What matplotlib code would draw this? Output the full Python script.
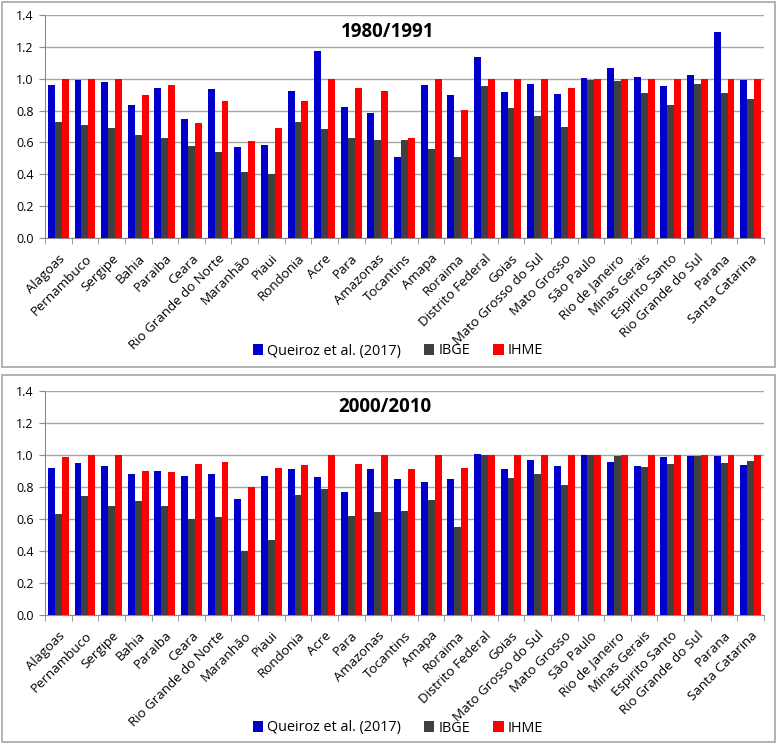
import numpy as np
import matplotlib.pyplot as plt
from matplotlib.patches import Rectangle

plt.rcParams['font.family'] = ['Open Sans', 'DejaVu Sans']

states = ['Alagoas', 'Pernambuco', 'Sergipe', 'Bahia', 'Paraiba', 'Ceara',
          'Rio Grande do Norte', 'Maranhão', 'Piaui', 'Rondonia', 'Acre', 'Para',
          'Amazonas', 'Tocantins', 'Amapa', 'Roraima', 'Distrito Federal', 'Goias',
          'Mato Grosso do Sul', 'Mato Grosso', 'São Paulo', 'Rio de Janeiro',
          'Minas Gerais', 'Espirito Santo', 'Rio Grande do Sul', 'Parana',
          'Santa Catarina']
series_names = ['Queiroz et al. (2017)', 'IBGE', 'IHME']

# 1980/1991
queiroz_80 = [0.96, 0.99, 0.98, 0.835, 0.94, 0.75, 0.935, 0.574, 0.585, 0.92, 1.175,
              0.825, 0.785, 0.507, 0.96, 0.90, 1.138, 0.915, 0.968, 0.907, 1.005,
              1.065, 1.012, 0.953, 1.025, 1.295, 0.993]
ibge_80 = [0.73, 0.71, 0.69, 0.645, 0.63, 0.58, 0.54, 0.415, 0.40, 0.73, 0.685,
           0.63, 0.617, 0.618, 0.56, 0.509, 0.954, 0.818, 0.765, 0.698, 0.992,
           0.987, 0.908, 0.834, 0.966, 0.908, 0.874]
ihme_80 = [1.0, 1.0, 1.0, 0.895, 0.96, 0.725, 0.857, 0.612, 0.69, 0.857, 1.0,
           0.94, 0.92, 0.625, 1.0, 0.803, 1.0, 1.0, 1.0, 0.94, 1.0,
           1.0, 1.0, 1.0, 1.0, 1.0, 1.0]

# 2000/2010
queiroz_00 = [0.917, 0.95, 0.931, 0.884, 0.898, 0.871, 0.884, 0.723, 0.871, 0.911,
              0.865, 0.767, 0.911, 0.852, 0.832, 0.852, 1.008, 0.911, 0.969, 0.929,
              1.0, 0.956, 0.929, 0.988, 0.994, 0.994, 0.936]
ibge_00 = [0.63, 0.746, 0.682, 0.715, 0.682, 0.599, 0.611, 0.40, 0.466, 0.753,
           0.786, 0.617, 0.642, 0.649, 0.721, 0.547, 1.0, 0.859, 0.884, 0.811,
           1.0, 0.994, 0.923, 0.942, 0.994, 0.948, 0.963]
ihme_00 = [0.988, 1.0, 1.0, 0.898, 0.892, 0.942, 0.956, 0.80, 0.917, 0.936,
           1.0, 0.942, 1.0, 0.911, 1.0, 0.917, 1.0, 1.0, 1.0, 1.0,
           1.0, 1.0, 1.0, 1.0, 1.0, 1.0, 1.0]

colors = ['#0000cc', '#404040', '#ff0000']
W, H = 778, 744
fig = plt.figure(figsize=(W / 100, H / 100), dpi=100)


def px(x0, y0, x1, y1):
    return [x0 / W, 1 - y1 / H, (x1 - x0) / W, (y1 - y0) / H]


def panel(rect, title, data, title_xy, leg_xy, box):
    fig.add_artist(Rectangle((box[0], box[1]), box[2], box[3], transform=fig.transFigure,
                             fill=False, ec='#a6a6a6', lw=1.2))
    ax = fig.add_axes(rect)
    x = np.arange(len(states))
    w = 0.26
    for i, vals in enumerate(data):
        ax.bar(x + (i - 1) * w, vals, width=w, color=colors[i], label=series_names[i],
               zorder=3)
    ax.set_xlim(-0.5, len(states) - 0.5)
    ax.set_ylim(0, 1.4)
    ax.set_yticks(np.arange(0, 1.41, 0.2))
    ax.set_yticklabels([f'{v:.1f}' for v in np.arange(0, 1.41, 0.2)], fontsize=9)
    ax.yaxis.grid(True, color='#a6a6a6', lw=1, zorder=0)
    ax.set_xticks(x)
    ax.set_xticklabels(states, rotation=45, ha='right', rotation_mode='anchor',
                       fontsize=9.6)
    ax.set_xticks(np.arange(-0.5, len(states)), minor=True)
    ax.tick_params(axis='x', which='major', length=0, pad=10)
    ax.tick_params(axis='x', which='minor', length=4, color='#8c8c8c')
    ax.tick_params(axis='y', length=4, color='#8c8c8c', pad=4)
    for s in ['top', 'right']:
        ax.spines[s].set_visible(False)
    for s in ['left', 'bottom']:
        ax.spines[s].set_color('#8c8c8c')
    fig.text(title_xy[0], title_xy[1], title, fontsize=13.5, fontweight='bold',
             ha='center', va='center')
    fig.legend(*ax.get_legend_handles_labels(), loc='center', ncol=3, frameon=False,
               bbox_to_anchor=leg_xy, bbox_transform=fig.transFigure, fontsize=10.4,
               handlelength=0.7, handleheight=0.7, handletextpad=0.3,
               columnspacing=1.6)
    return ax


panel(px(45, 15, 764, 238), '1980/1991', [queiroz_80, ibge_80, ihme_80],
      (388 / W, 1 - 32 / H), (398 / W, 1 - 351 / H),
      [2 / W, 1 - 367 / H, 773 / W, 365 / H])
panel(px(45, 391, 764, 615), '2000/2010', [queiroz_00, ibge_00, ihme_00],
      (385 / W, 1 - 407 / H), (398 / W, 1 - 728 / H),
      [2 / W, 1 - 742 / H, 773 / W, 367 / H])

fig.savefig('out.png', dpi=100)
